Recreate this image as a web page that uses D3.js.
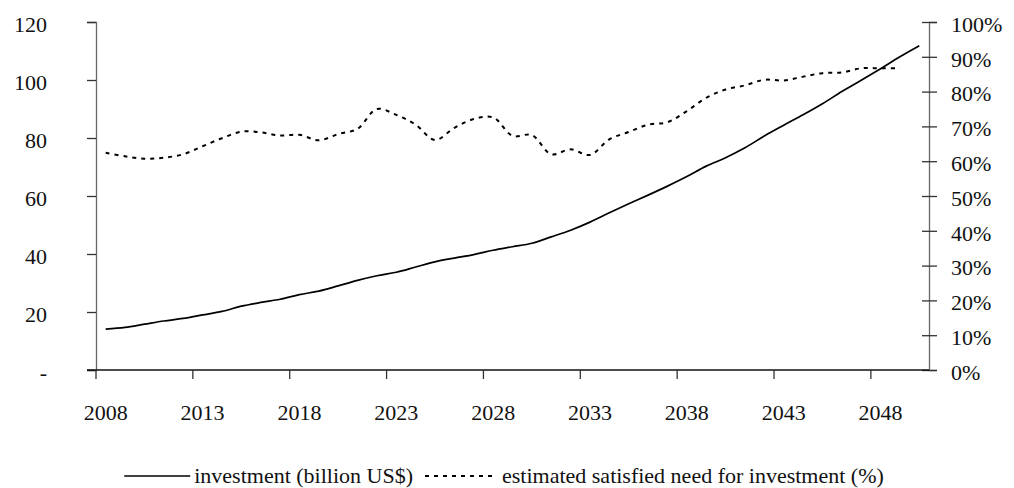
<!DOCTYPE html>
<html lang="en">
<head>
    <meta charset="utf-8" />
    <script src="https://d3js.org/d3.v7.min.js"></script>
    <title>Investment</title>
    <style>
        body { margin: 0; background: #fff; }
        svg text { font-family: 'Liberation Serif', 'Times New Roman', Times, 'DejaVu Serif', serif; fill: #111; }
    </style>
</head>
<body>
    <div id="chart"></div>
    <script>
        // categories (years)
        var years = [2008, 2009, 2010, 2011, 2012, 2013, 2014, 2015, 2016, 2017,
            2018, 2019, 2020, 2021, 2022, 2023, 2024, 2025, 2026, 2027,
            2028, 2029, 2030, 2031, 2032, 2033, 2034, 2035, 2036, 2037,
            2038, 2039, 2040, 2041, 2042, 2043, 2044, 2045, 2046, 2047,
            2048, 2049, 2050];

        // investment, billion US$ (left axis)
        var investment = [14.1, 14.7, 15.8, 16.9, 17.8, 19.0, 20.2, 22.0, 23.3, 24.4,
            26.0, 27.2, 29.0, 30.9, 32.5, 33.7, 35.5, 37.3, 38.6, 39.8,
            41.3, 42.5, 43.7, 45.9, 48.2, 51.0, 54.2, 57.3, 60.3, 63.4,
            66.7, 70.3, 73.2, 76.6, 80.7, 84.4, 88.0, 91.8, 96.0, 99.9,
            103.9, 108.0, 111.8];

        // estimated satisfied need for investment, % (right axis), ends 2049
        var satisfied = [62.4, 61.4, 60.7, 61.0, 62.0, 64.3, 66.6, 68.5, 68.3, 67.4,
            67.6, 66.0, 67.8, 69.3, 75.0, 73.3, 70.5, 66.1, 69.6, 72.1,
            72.6, 67.3, 67.5, 62.0, 63.4, 61.8, 66.3, 68.4, 70.5, 71.2,
            74.4, 78.2, 80.6, 81.8, 83.4, 83.2, 84.3, 85.3, 85.5, 86.7,
            86.7, 86.7];

        var leftTicks = [0, 20, 40, 60, 80, 100, 120];
        var leftTickLabels = ["-", "20", "40", "60", "80", "100", "120"];
        var rightTicks = [0, 10, 20, 30, 40, 50, 60, 70, 80, 90, 100];
        var labelYears = [2008, 2013, 2018, 2023, 2028, 2033, 2038, 2043, 2048];

        var seriesNames = ["investment (billion US$)", "estimated satisfied need for investment (%)"];

        var W = 1014, H = 488;
        var plotLeft = 96, plotRight = 929, plotTop = 22, plotBottom = 370;
        var FONT = "'Liberation Serif', 'Times New Roman', Times, 'DejaVu Serif', serif";

        var svg = d3.select("#chart").append("svg")
            .attr("width", W)
            .attr("height", H);

        var x = d3.scaleBand().domain(years).range([plotLeft, plotRight]).paddingInner(0).paddingOuter(0);
        var bw = x.bandwidth();
        var cx = function (yr) { return x(yr) + bw / 2; };

        var yL = d3.scaleLinear().domain([0, 120]).range([plotBottom, plotTop]);
        var yR = d3.scaleLinear().domain([0, 100]).range([plotBottom, plotTop]);

        // left axis
        var axL = d3.axisLeft(yL).tickValues(leftTicks)
            .tickFormat(function (d, i) { return leftTickLabels[i]; })
            .tickSize(9);
        var gL = svg.append("g").attr("transform", "translate(" + plotLeft + ",0)").call(axL);
        gL.select(".domain").attr("stroke", "#666").attr("stroke-width", 1.3);
        gL.selectAll(".tick line").attr("stroke", "#333").attr("stroke-width", 1.3);
        gL.selectAll(".tick text")
            .attr("x", -49).attr("dy", "0.42em")
            .style("font-size", "22px").style("font-family", FONT).attr("fill", "#111");

        // right axis
        var axR = d3.axisRight(yR).tickValues(rightTicks)
            .tickFormat(function (d) { return d + "%"; })
            .tickSize(8);
        var gR = svg.append("g").attr("transform", "translate(" + plotRight + ",0)").call(axR);
        gR.select(".domain").attr("stroke", "#666").attr("stroke-width", 1.3);
        gR.selectAll(".tick line").attr("x1", -7).attr("stroke", "#333").attr("stroke-width", 1.3);
        gR.selectAll(".tick text")
            .attr("x", 22).attr("dy", "0.42em")
            .style("font-size", "22px").style("font-family", FONT).attr("fill", "#111");

        // x axis
        svg.append("line")
            .attr("x1", plotLeft - 9).attr("x2", plotRight)
            .attr("y1", plotBottom).attr("y2", plotBottom)
            .attr("stroke", "#111").attr("stroke-width", 1.3);

        svg.selectAll("line.xtick")
            .data(labelYears)
            .enter().append("line")
            .attr("class", "xtick")
            .attr("x1", function (d) { return x(d); })
            .attr("x2", function (d) { return x(d); })
            .attr("y1", plotBottom).attr("y2", plotBottom + 9)
            .attr("stroke", "#333").attr("stroke-width", 1.3);

        svg.selectAll("text.xlab")
            .data(labelYears)
            .enter().append("text")
            .attr("class", "xlab")
            .attr("x", function (d) { return cx(d); })
            .attr("y", 420)
            .attr("text-anchor", "middle")
            .style("font-size", "22px").style("font-family", FONT)
            .text(function (d) { return d; });

        // lines
        var lineL = d3.line()
            .x(function (d, i) { return cx(years[i]); })
            .y(function (d) { return yL(d); })
            .curve(d3.curveCatmullRom.alpha(0.5));

        var lineR = d3.line()
            .x(function (d, i) { return cx(years[i]); })
            .y(function (d) { return yR(d); })
            .curve(d3.curveCatmullRom.alpha(0.5));

        svg.append("path")
            .datum(investment)
            .attr("d", lineL)
            .attr("fill", "none")
            .attr("stroke", "#000")
            .attr("stroke-width", 1.7);

        svg.append("path")
            .datum(satisfied)
            .attr("d", lineR)
            .attr("fill", "none")
            .attr("stroke", "#000")
            .attr("stroke-width", 2)
            .attr("stroke-dasharray", "4,5");

        // legend
        var legY = 483;
        var t1 = svg.append("text")
            .attr("x", 413).attr("y", legY)
            .attr("text-anchor", "end")
            .style("font-size", "22px").style("font-family", FONT)
            .text(seriesNames[0]);
        var w1 = t1.node().getComputedTextLength();

        svg.append("line")
            .attr("x1", 413 - w1 - 70).attr("x2", 413 - w1 - 4)
            .attr("y1", legY - 7).attr("y2", legY - 7)
            .attr("stroke", "#000").attr("stroke-width", 1.7);

        svg.append("line")
            .attr("x1", 425).attr("x2", 492)
            .attr("y1", legY - 7).attr("y2", legY - 7)
            .attr("stroke", "#000").attr("stroke-width", 2)
            .attr("stroke-dasharray", "4,5");

        svg.append("text")
            .attr("x", 502).attr("y", legY)
            .style("font-size", "22px").style("font-family", FONT)
            .text(seriesNames[1]);
    </script>
</body>
</html>
